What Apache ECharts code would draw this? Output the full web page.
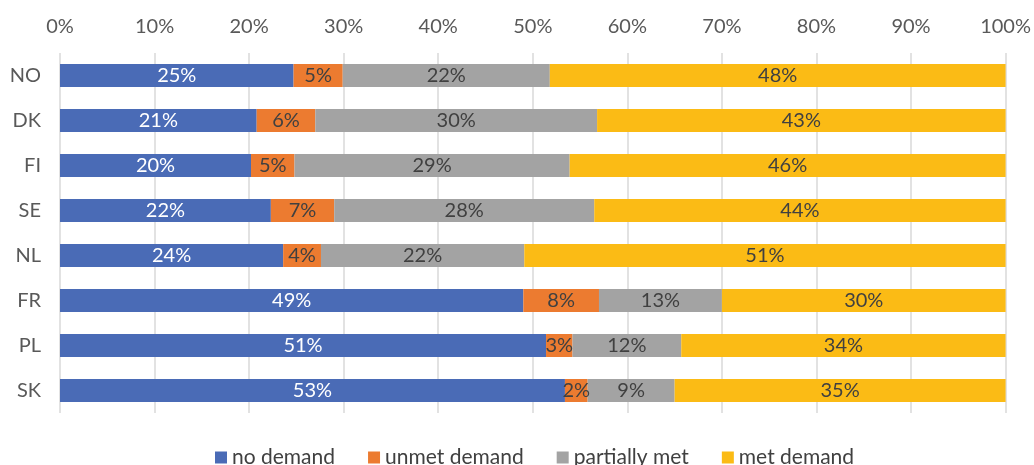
<!DOCTYPE html>
<html>
<head>
<meta charset="utf-8">
<script src="https://cdn.jsdelivr.net/npm/echarts@6/dist/echarts.min.js"></script>
<style>
  html, body { margin: 0; padding: 0; background: #fff; }
  #chart { width: 1034px; height: 465px; }
</style>
</head>
<body>
<div id="chart"></div>
<script>
// countries, top to bottom
var countries = ['NO', 'DK', 'FI', 'SE', 'NL', 'FR', 'PL', 'SK'];

// shares in %
var noDemand      = [24.7, 20.8, 20.2, 22.3, 23.6, 49.0, 51.4, 53.4];
var unmetDemand   = [5.2, 6.2, 4.6, 6.7, 4.0, 8.0, 2.8, 2.4];
var partiallyMet  = [21.9, 29.8, 29.1, 27.5, 21.5, 13.0, 11.5, 9.2];
var metDemand     = [48.2, 43.2, 46.1, 43.5, 50.9, 30.0, 34.3, 35.0];

var seriesNames = ['no demand', 'unmet demand', 'partially met', 'met demand'];
var seriesData = [noDemand, unmetDemand, partiallyMet, metDemand];
var colors = ['#4a6bb6', '#ec7b30', '#a3a3a3', '#fbbb15'];
var labelColors = ['#ffffff', '#404040', '#404040', '#404040'];

var font = 'Lato, "Open Sans", sans-serif';

var series = seriesData.map(function (d, i) {
    return {
        name: seriesNames[i],
        type: 'bar',
        stack: 'total',
        data: d,
        barWidth: '51%',
        itemStyle: { color: colors[i] },
        label: {
            show: true,
            position: 'inside',
            color: labelColors[i],
            fontSize: 20,
            fontFamily: font,
            formatter: function (p) { return Math.round(p.value) + '%'; }
        }
    };
});

var chart = echarts.init(document.getElementById('chart'));
chart.setOption({
    animation: false,
    textStyle: { fontFamily: font },
    grid: { left: 60, right: 27, top: 53, bottom: 52, containLabel: false },
    legend: {
        bottom: -8,
        left: 210,
        icon: 'rect',
        itemWidth: 12,
        itemHeight: 12,
        itemGap: 33,
        data: seriesNames,
        textStyle: { fontSize: 21, color: '#404040', fontFamily: font }
    },
    xAxis: {
        type: 'value',
        position: 'top',
        min: 0,
        max: 100,
        interval: 10,
        axisLine: { show: false },
        axisTick: { show: false },
        axisLabel: { formatter: '{value}%', fontSize: 20, color: '#595959', margin: 16 },
        splitLine: { lineStyle: { color: '#d9d9d9', width: 1.5 } }
    },
    yAxis: {
        type: 'category',
        data: countries,
        inverse: true,
        axisLine: { show: false },
        axisTick: { show: false },
        axisLabel: { fontSize: 20, color: '#595959', margin: 19 }
    },
    series: series
});
</script>
</body>
</html>
